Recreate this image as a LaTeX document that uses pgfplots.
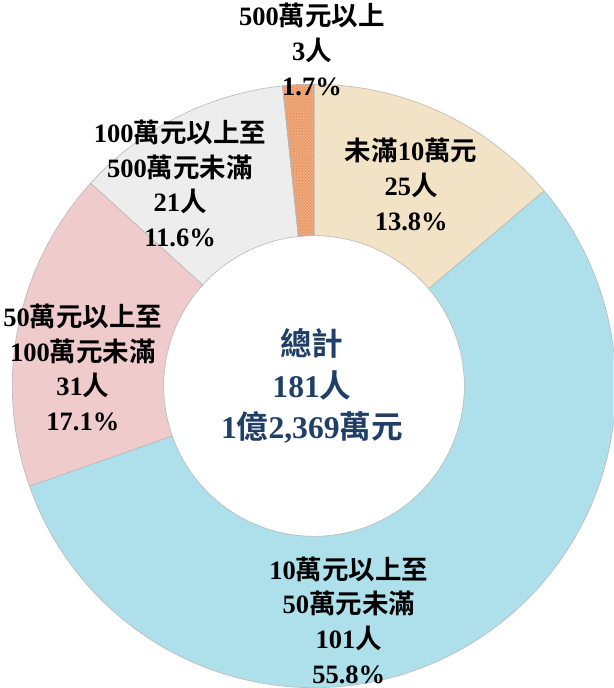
\documentclass[border=0pt]{standalone}
\usepackage{fontspec}
\setmainfont{Liberation Serif}[BoldFont={Liberation Serif Bold}]
\newfontfamily\cjk{Noto Sans CJK TC}[BoldFont={Noto Sans CJK TC Bold}]
\usepackage{pgfplots}
\pgfplotsset{compat=1.18}
\usetikzlibrary{patterns}
\definecolor{cA}{HTML}{F3E3C6}
\definecolor{cB}{HTML}{AEE0EC}
\definecolor{cC}{HTML}{F0CBCC}
\definecolor{cD}{HTML}{EDEDED}
\definecolor{cE}{HTML}{F4A878}
\definecolor{ctext}{HTML}{1F3F66}
\newcommand\C[1]{{\cjk #1}}
% counts, clockwise from 12 o'clock
\def\vA{25}\def\vB{101}\def\vC{31}\def\vD{21}\def\vE{3}
\pgfmathsetmacro\tot{\vA+\vB+\vC+\vD+\vE}
\pgfmathsetmacro\angA{90}
\pgfmathsetmacro\angB{\angA-\vA/\tot*360}
\pgfmathsetmacro\angC{\angB-\vB/\tot*360}
\pgfmathsetmacro\angD{\angC-\vC/\tot*360}
\pgfmathsetmacro\angE{\angD-\vD/\tot*360}
\pgfmathsetmacro\angF{\angE-\vE/\tot*360}
\def\cx{315}\def\cy{391}\def\Ro{295}\def\Ri{147}
% donut segment from angle #1 to angle #2
\newcommand\seg[3]{%
  \addplot[#3, domain=0:2.5, samples=251, variable=\t]
   ({\cx + ((\t<1.5) ? \Ro : \Ri)*cos(#1 + ((\t<1.5) ? min(\t,1) : (2.5-\t))*(#2-#1))},
    {\cy - ((\t<1.5) ? \Ro : \Ri)*sin(#1 + ((\t<1.5) ? min(\t,1) : (2.5-\t))*(#2-#1))}) -- cycle;
}
\begin{document}
\begin{tikzpicture}
\begin{axis}[
  width=608bp, height=688bp, scale only axis,
  xmin=0, xmax=608, ymin=0, ymax=688, y dir=reverse,
  hide axis, clip=true,
]
\seg{\angA}{\angB}{fill=cA, draw=gray!55, line width=0.6pt}
\seg{\angB}{\angC}{fill=cB, draw=gray!55, line width=0.6pt}
\seg{\angC}{\angD}{fill=cC, draw=gray!55, line width=0.6pt}
\seg{\angD}{\angE}{fill=cD, draw=gray!55, line width=0.6pt}
\seg{\angE}{\angF}{fill=cE, draw=gray!55, line width=0.6pt, postaction={pattern=crosshatch dots, pattern color=cE!80!black}}
\begin{scope}[every node/.style={align=center, text=black, font=\fontsize{26}{34}\selectfont\bfseries}]
\node at (axis cs:313,62) {500\C{萬元以上}\\3\C{人}\\1.7\%};
\node at (axis cs:410,194) {\C{未滿}10\C{萬元}\\25\C{人}\\13.8\%};
\node at (axis cs:349,620) {10\C{萬元以上至}\\50\C{萬元未滿}\\101\C{人}\\55.8\%};
\node at (axis cs:89,373) {50\C{萬元以上至}\\100\C{萬元未滿}\\31\C{人}\\17.1\%};
\node at (axis cs:184,193) {100\C{萬元以上至}\\500\C{萬元未滿}\\21\C{人}\\11.6\%};
\end{scope}
\node[align=center, text=ctext, font=\fontsize{31}{41}\selectfont\bfseries] at (axis cs:313,391) {\C{總計}\\181\C{人}\\1\C{億}2,369\C{萬元}};
\end{axis}
\end{tikzpicture}
\end{document}
